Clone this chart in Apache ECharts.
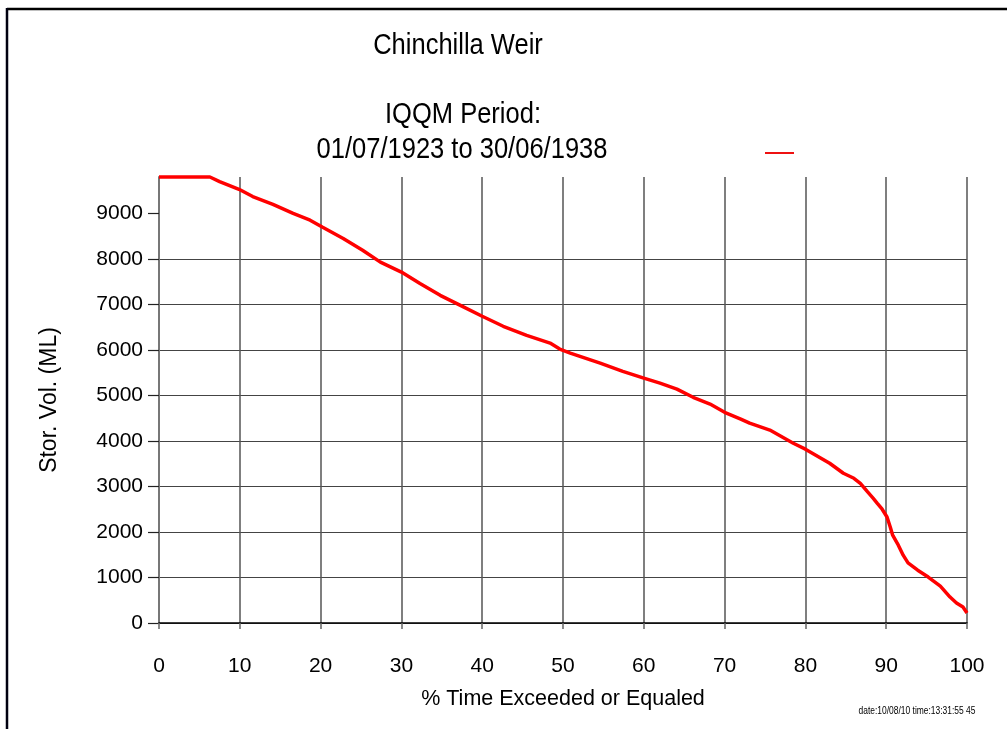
<!DOCTYPE html>
<html>
<head>
<meta charset="utf-8">
<script src="https://cdn.jsdelivr.net/npm/echarts@6/dist/echarts.min.js"></script>
<style>
html,body{margin:0;padding:0;background:#fff;}
#chart{width:1007px;height:729px;}
</style>
</head>
<body>
<div id="chart"></div>
<script>
// Exceedance (% time) and storage volume (ML)
var pctTime = [0, 6.3, 7.5, 9.9, 11.6, 14.1, 16.6, 18.7, 20.2, 22.8, 25.2, 27.4, 30, 32.3, 34.8, 37.3, 40, 42.6, 45.5, 48.4, 49.6, 50.9, 52.1, 54.6, 57.4, 60, 62, 64.1, 66.1, 68.2, 70, 72, 73.1, 75.6, 78.5, 80, 83, 84.7, 86, 86.8, 87.7, 88.4, 88.9, 89.5, 90.1, 90.5, 90.8, 91.5, 92.1, 92.7, 93.9, 95.2, 96.7, 97.9, 98.7, 99.5, 100];
var storVol = [9800, 9800, 9700, 9530, 9370, 9200, 9000, 8850, 8700, 8450, 8190, 7930, 7710, 7460, 7200, 6980, 6740, 6520, 6320, 6150, 6020, 5930, 5860, 5710, 5530, 5380, 5270, 5140, 4960, 4810, 4630, 4480, 4390, 4240, 3950, 3820, 3510, 3290, 3180, 3070, 2880, 2740, 2630, 2500, 2330, 2110, 1930, 1710, 1490, 1320, 1160, 1010, 810, 570, 440, 350, 220];
var xTicks = [0, 10, 20, 30, 40, 50, 60, 70, 80, 90, 100];
var yTicks = [0, 1000, 2000, 3000, 4000, 5000, 6000, 7000, 8000, 9000];
var titleLines = ['Chinchilla Weir', 'IQQM Period:', '01/07/1923 to 30/06/1938'];
var xName = '% Time Exceeded or Equaled';
var yName = 'Stor. Vol. (ML)';
var stamp = 'date:10/08/10 time:13:31:55 45';

var pairs = pctTime.map(function (p, i) { return [p, storVol[i]]; });
var FONT = '"Liberation Sans", Arial, sans-serif';

function titleText(str, x, y) {
  return {type: 'text', x: x, y: y, scaleX: 0.88, scaleY: 1, z: 100,
    style: {text: str, font: '29px ' + FONT, fill: '#000', textAlign: 'center', textVerticalAlign: 'top'}};
}

var chart = echarts.init(document.getElementById('chart'), null, {renderer: 'canvas'});
chart.setOption({
  backgroundColor: '#ffffff',
  animation: false,
  grid: {left: 159, right: 40, top: 177, bottom: 106, containLabel: false},
  xAxis: {
    type: 'value', min: 0, max: 100, interval: 10,
    name: xName, nameLocation: 'middle', nameGap: 65,
    nameTextStyle: {fontFamily: FONT, fontSize: 21.5, color: '#000'},
    axisLine: {show: true, onZero: false, lineStyle: {color: '#000', width: 1.5}},
    axisTick: {show: true, length: 6, lineStyle: {color: '#666', width: 1.5}},
    axisLabel: {margin: 33, fontFamily: FONT, fontSize: 21, color: '#000', customValues: xTicks,
      formatter: function (v) { return String(v); }},
    splitLine: {show: true, lineStyle: {color: '#555', width: 1.5}}
  },
  yAxis: {
    type: 'value', min: 0, max: 9800, interval: 1000,
    name: yName, nameLocation: 'middle', nameGap: 98, nameRotate: 90,
    nameTextStyle: {fontFamily: FONT, fontSize: 23, color: '#000'},
    axisLine: {show: true, lineStyle: {color: '#777', width: 2}},
    axisTick: {show: true, length: 11, lineStyle: {color: '#222', width: 1.2}, customValues: yTicks},
    axisLabel: {margin: 16, fontFamily: FONT, fontSize: 21, color: '#000', customValues: yTicks,
      formatter: function (v) { return String(v); }},
    splitLine: {show: true, showMaxLine: false, lineStyle: {color: '#444', width: 1.2}}
  },
  series: [{
    type: 'line', data: pairs, showSymbol: false, symbol: 'none', clip: false,
    lineStyle: {color: '#ff0000', width: 3.5}, itemStyle: {color: '#ff0000'}
  }],
  graphic: [
    {type: 'line', shape: {x1: 7, y1: 9, x2: 1007, y2: 9}, style: {stroke: '#000', lineWidth: 2.5}, z: 100},
    {type: 'line', shape: {x1: 7, y1: 8, x2: 7, y2: 729}, style: {stroke: '#000010', lineWidth: 2.5}, z: 100},
    {type: 'line', shape: {x1: 765, y1: 153, x2: 794, y2: 153}, style: {stroke: '#ee1111', lineWidth: 2}, z: 100},
    titleText(titleLines[0], 458, 31),
    titleText(titleLines[1], 463, 100),
    titleText(titleLines[2], 462, 135),
    {type: 'text', x: 917, y: 706, scaleX: 0.82, scaleY: 1, z: 100,
      style: {text: stamp, font: '10.3px ' + FONT, fill: '#000', textAlign: 'center', textVerticalAlign: 'top'}}
  ]
});
</script>
</body>
</html>
